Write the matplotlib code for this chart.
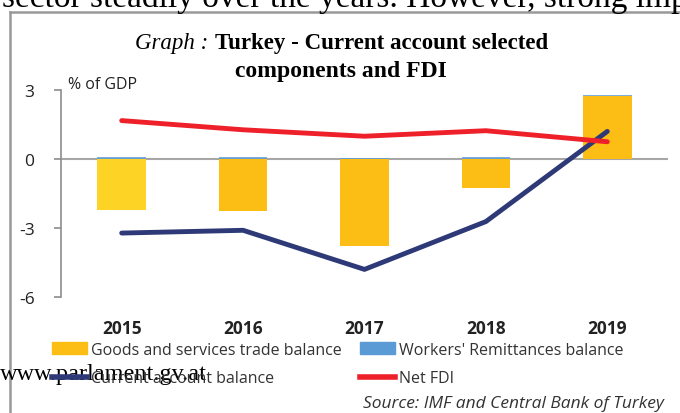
import matplotlib.pyplot as plt
from matplotlib.lines import Line2D
from matplotlib.patches import Patch

years = ['2015', '2016', '2017', '2018', '2019']
goods_trade = [-2.2, -2.25, -3.77, -1.26, 2.72]
remittances = [0.07, 0.07, 0.04, 0.08, 0.06]
current_account = [-3.22, -3.1, -4.8, -2.72, 1.2]
net_fdi = [1.67, 1.27, 0.99, 1.23, 0.75]

bar_colors = ['#FDD426', '#FCBE14', '#FCBE14', '#FCBE14', '#FCBE14']
yellow = '#FCBE14'
blue = '#5B9BD5'
navy = '#2E3A78'
red = '#EE2029'

fig = plt.figure(figsize=(6.8, 4.14), dpi=100)
W, H = 680, 414

# scanned page context: cut-off sentence and frame
fig.text(2 / W, 1 - 7 / H, 'sector steadily over the years. However, strong imp',
         family='Liberation Serif', fontsize=24, va='baseline', ha='left')
fig.add_artist(Line2D([10 / W, 10 / W], [0, 1 - 13 / H], color='#999999', lw=1.8))
fig.add_artist(Line2D([10 / W, 1], [1 - 13 / H, 1 - 13 / H], color='#999999', lw=1.8))

# title
fig.text(208 / W, 1 - 44 / H, 'Graph :', family='Liberation Serif', style='italic',
         fontsize=16.5, ha='right', va='center')
fig.text(215 / W, 1 - 44 / H, 'Turkey - Current account selected', family='Liberation Serif',
         weight='bold', fontsize=16.5, ha='left', va='center')
fig.text(341 / W, 1 - 72 / H, 'components and FDI', family='Liberation Serif',
         weight='bold', fontsize=17, ha='center', va='center')

ax = fig.add_axes([61 / W, 1 - 298 / H, 607 / W, 207 / H])
x = range(len(years))
ax.bar(x, goods_trade, width=0.4, color=bar_colors, zorder=2)
bottoms = [max(g, 0) for g in goods_trade]
ax.bar(x, remittances, width=0.4, bottom=bottoms, color=blue, alpha=0.8, zorder=2)
ax.axhline(0, color='#a6a6a6', lw=1.5, zorder=1)
ax.plot(x, current_account, color=navy, lw=3.5, solid_capstyle='round', zorder=3)
ax.plot(x, net_fdi, color=red, lw=3.5, solid_capstyle='round', zorder=3)

ax.set_xlim(-0.5, 4.5)
ax.set_ylim(-6, 3)
ax.set_yticks([3, 0, -3, -6])
ax.set_yticklabels(['3', '0', '-3', '-6'], family='Open Sans', fontsize=12.5, color='#222222')
ax.set_xticks(list(x))
ax.set_xticklabels(years, family='Open Sans', weight='bold', fontsize=12.5, color='#222222')
ax.tick_params(axis='x', length=0, pad=16)
ax.tick_params(axis='y', length=5, width=1.2, color='#8c8c8c', pad=14)
for s in ['top', 'right', 'bottom']:
    ax.spines[s].set_visible(False)
ax.spines['left'].set_color('#8c8c8c')
ax.spines['left'].set_linewidth(1.2)
ax.patch.set_alpha(0)

fig.text(68 / W, 1 - 85 / H, '% of GDP', family='Open Sans', fontsize=11.5, va='center',
         color='#222222')

# legend (column-major order so rows read goods/remittances, then CA/FDI)
handles = [Patch(color=yellow), Line2D([0], [0], color=navy, lw=4),
           Patch(color=blue), Line2D([0], [0], color=red, lw=4)]
labels = ['Goods and services trade balance', 'Current account balance',
          "Workers' Remittances balance", 'Net FDI']
fig.legend(handles, labels, ncol=2, loc='center left', bbox_to_anchor=(44 / W, 1 - 365 / H),
           frameon=False, borderpad=0, prop={'family': 'Open Sans', 'size': 11.5},
           labelcolor='#333333', handlelength=2.2, handleheight=0.8, handletextpad=0.25,
           columnspacing=1.15, labelspacing=0.8)

fig.text(0, 1 - 375 / H, 'www.parlament.gv.at', family='Liberation Serif', fontsize=17.5,
         va='center', ha='left')
fig.text(664 / W, 1 - 404 / H, 'Source: IMF and Central Bank of Turkey', family='Open Sans',
         style='italic', fontsize=12.5, ha='right', va='center', color='#333333')

fig.savefig('out.png', dpi=100)
